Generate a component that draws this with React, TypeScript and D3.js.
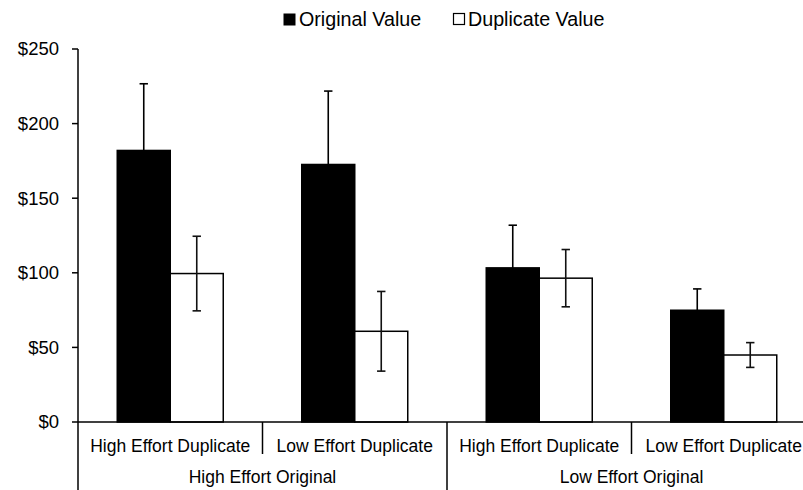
import React, { useEffect, useRef } from "react";
import * as d3 from "d3";

const groups: string[] = ["High Effort Original", "Low Effort Original"];
const categories: string[] = [
  "High Effort Duplicate",
  "Low Effort Duplicate",
  "High Effort Duplicate",
  "Low Effort Duplicate",
];
const series: string[] = ["Original Value", "Duplicate Value"];
const originalValues: number[] = [182, 172.6, 103.3, 74.9];
const originalErrors: number[] = [44.7, 49.2, 28.6, 14.3];
const duplicateValues: number[] = [99.5, 60.8, 96.4, 44.9];
const duplicateErrors: number[] = [25, 26.7, 19.2, 8.3];
const yTicks: number[] = [0, 50, 100, 150, 200, 250];

const width = 803,
  height = 490;
const margin = { top: 49, left: 78, right: 816, bottom: 422 };

interface IBar {
  cat: number;
  s: string;
  value: number;
  err: number;
}

export default function App(): JSX.Element {
  const ref = useRef<SVGSVGElement>(null);

  useEffect(() => {
    if (!ref.current) return;
    const svg = d3.select(ref.current);
    svg.selectAll("*").remove();

    const font = "'Liberation Sans', Arial, sans-serif";
    const x0 = d3
      .scaleBand<number>()
      .domain(d3.range(categories.length))
      .range([margin.left, margin.right]);
    const bw = x0.bandwidth();
    const x1 = d3
      .scaleBand<string>()
      .domain(series)
      .range([bw / 2 - 53, bw / 2 + 53]);
    const y = d3.scaleLinear().domain([0, 250]).range([margin.bottom, margin.top]);

    const bars: IBar[] = [];
    categories.forEach((_, i) => {
      bars.push({ cat: i, s: series[0], value: originalValues[i], err: originalErrors[i] });
      bars.push({ cat: i, s: series[1], value: duplicateValues[i], err: duplicateErrors[i] });
    });

    const g = svg.append("g");

    g.selectAll(".bar")
      .data(bars)
      .enter()
      .append("rect")
      .attr("x", (d) => (x0(d.cat) as number) + (x1(d.s) as number))
      .attr("width", x1.bandwidth())
      .attr("y", (d) => y(d.value))
      .attr("height", (d) => y(0) - y(d.value))
      .attr("fill", (d) => (d.s === series[0] ? "#000" : "#fff"))
      .attr("stroke", "#000")
      .attr("stroke-width", 1.5);

    // error bars
    const eb = g
      .selectAll(".err")
      .data(bars)
      .enter()
      .append("g")
      .attr(
        "transform",
        (d) => `translate(${(x0(d.cat) as number) + (x1(d.s) as number) + x1.bandwidth() / 2},0)`
      )
      .attr("stroke", d => (d.s === series[0] ? "#000" : "#111"))
      .attr("stroke-width", 1.6);
    eb.append("line")
      .attr("y1", (d) => y(d.value + d.err))
      .attr("y2", (d) => y(Math.max(0, d.value - d.err)));
    eb.append("line")
      .attr("x1", -4.2)
      .attr("x2", 4.2)
      .attr("y1", (d) => y(d.value + d.err))
      .attr("y2", (d) => y(d.value + d.err));
    eb.filter((d) => d.s === series[1])
      .append("line")
      .attr("x1", -4.2)
      .attr("x2", 4.2)
      .attr("y1", (d) => y(d.value - d.err))
      .attr("y2", (d) => y(d.value - d.err));

    // y axis
    const ya = g.append("g");
    ya.append("line")
      .attr("x1", margin.left)
      .attr("x2", margin.left)
      .attr("y1", y(250))
      .attr("y2", height)
      .attr("stroke", "#000")
      .attr("stroke-width", 1.5);
    yTicks.forEach((t) => {
      ya.append("line")
        .attr("x1", margin.left - 6)
        .attr("x2", margin.left)
        .attr("y1", y(t))
        .attr("y2", y(t))
        .attr("stroke", "#000")
        .attr("stroke-width", 1.5);
      ya.append("text")
        .attr("x", 59)
        .attr("y", y(t))
        .attr("dy", "0.35em")
        .attr("text-anchor", "end")
        .attr("font-family", font)
        .attr("font-size", 18.5)
        .attr("fill", "#000")
        .text("$" + t);
    });

    // x axis
    g.append("line")
      .attr("x1", margin.left)
      .attr("x2", margin.right)
      .attr("y1", y(0))
      .attr("y2", y(0))
      .attr("stroke", "#000")
      .attr("stroke-width", 1.5);

    categories.forEach((c, i) => {
      const xs = x0(i) as number;
      const isGroupEdge = i % 2 === 0;
      if (i > 0) {
        g.append("line")
          .attr("x1", xs)
          .attr("x2", xs)
          .attr("y1", y(0))
          .attr("y2", isGroupEdge ? height : 454)
          .attr("stroke", "#000")
          .attr("stroke-width", 1.5);
      }
      g.append("text")
        .attr("x", xs + bw / 2)
        .attr("y", 451.5)
        .attr("text-anchor", "middle")
        .attr("font-family", font)
        .attr("font-size", 17.5)
        .attr("fill", "#000")
        .text(c);
    });

    groups.forEach((gr, i) => {
      const xs = x0(i * 2) as number;
      g.append("text")
        .attr("x", xs + bw)
        .attr("y", 483)
        .attr("text-anchor", "middle")
        .attr("font-family", font)
        .attr("font-size", 17.5)
        .attr("fill", "#000")
        .text(gr);
    });

    // legend
    const leg = g.append("g");
    leg.append("rect")
      .attr("x", 283.5)
      .attr("y", 13.5)
      .attr("width", 12)
      .attr("height", 12)
      .attr("fill", "#000");
    leg.append("text")
      .attr("x", 299)
      .attr("y", 26)
      .attr("font-family", font)
      .attr("font-size", 19.7)
      .attr("fill", "#000")
      .text(series[0]);
    leg.append("rect")
      .attr("x", 453.5)
      .attr("y", 13.5)
      .attr("width", 11)
      .attr("height", 11)
      .attr("fill", "#fff")
      .attr("stroke", "#000")
      .attr("stroke-width", 1.2);
    leg.append("text")
      .attr("x", 468)
      .attr("y", 26)
      .attr("font-family", font)
      .attr("font-size", 19.7)
      .attr("fill", "#000")
      .text(series[1]);
  }, []);

  return (
    <svg
      ref={ref}
      width={width}
      height={height}
      style={{ position: "absolute", left: 0, top: 0, background: "#fff" }}
    ></svg>
  );
}
